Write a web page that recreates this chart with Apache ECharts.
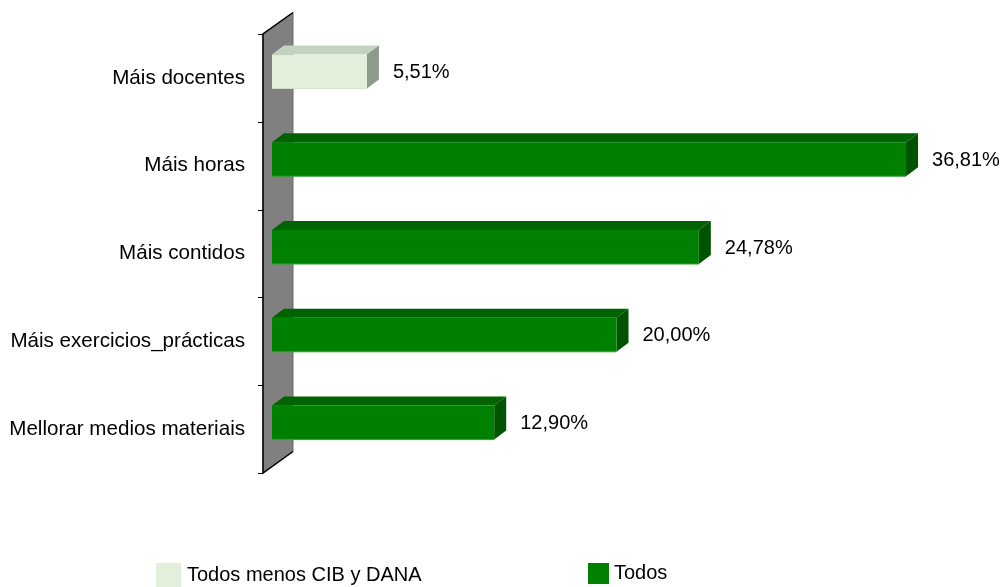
<!DOCTYPE html>
<html>
<head>
<meta charset="utf-8">
<script src="https://cdn.jsdelivr.net/npm/echarts@6/dist/echarts.min.js"></script>
<style>
html,body{margin:0;padding:0;background:#fff;}
#chart{width:1003px;height:587px;}
</style>
</head>
<body>
<div id="chart"></div>
<script>
const categories = ['Máis docentes', 'Máis horas', 'Máis contidos', 'Máis exercicios_prácticas', 'Mellorar medios materiais'];
const todosMenosValues = [5.51, null, null, null, null];
const todosValues = [null, 36.81, 24.78, 20.00, 12.90];
const seriesNames = ['Todos menos CIB y DANA', 'Todos'];

const FONT = "'Liberation Sans', Arial, sans-serif";
const palettes = {
  light: { front: '#e2efda', top: '#c4d3be', side: '#8e9a8b', edge: '#d0e0c8' },
  green: { front: '#008000', top: '#006200', side: '#005300', edge: '#33a033' }
};

function toData(arr) {
  const out = [];
  arr.forEach(function (v, i) { if (v != null) out.push([v, i]); });
  return out;
}

function fmt(v) { return v.toFixed(2).replace('.', ',') + '%'; }

function makeBarRender(pal) {
  return function (params, api) {
    const v = api.value(0), c = api.value(1);
    const p0 = api.coord([0, c]);
    const p1 = api.coord([v, c]);
    const cy = p0[1] - 6.5;
    const h = 34, dx = 12, dy = 9;
    const x0 = p0[0], x1 = p1[0];
    const top = cy - h / 2, bot = cy + h / 2;
    return {
      type: 'group',
      children: [
        { type: 'polygon', shape: { points: [[x0, top], [x1, top], [x1 + dx, top - dy], [x0 + dx, top - dy]] },
          style: { fill: pal.top } },
        { type: 'polygon', shape: { points: [[x1, top], [x1 + dx, top - dy], [x1 + dx, bot - dy], [x1, bot]] },
          style: { fill: pal.side } },
        { type: 'rect', shape: { x: x0, y: top, width: x1 - x0, height: h },
          style: { fill: pal.front } },
        { type: 'line', shape: { x1: x0, y1: bot, x2: x1, y2: bot }, style: { stroke: pal.edge, lineWidth: 1 } },
        { type: 'text', x: x1 + dx + 14, y: cy + 1,
          style: { text: fmt(v), fill: '#000', font: '20px ' + FONT, textAlign: 'left', textVerticalAlign: 'middle' } }
      ]
    };
  };
}

function renderWall(params, api) {
  const cs = params.coordSys;
  const fx = cs.x - 9, ty = cs.y, by = cs.y + cs.height;
  const dx = 30, dy = 21.5;
  const children = [
    { type: 'polygon', shape: { points: [[fx, ty], [fx + dx, ty - dy], [fx + dx, by - dy], [fx, by]] },
      style: { fill: '#808080', stroke: '#6a6a6a', lineWidth: 1 } },
    { type: 'polyline', shape: { points: [[fx + dx, ty - dy], [fx, ty], [fx, by], [fx + dx, by - dy]] },
      style: { stroke: '#000', lineWidth: 1.5, fill: null } }
  ];
  const n = categories.length;
  for (let i = 0; i <= n; i++) {
    const y = Math.round(ty + i * cs.height / n) + 0.5;
    children.push({ type: 'line', shape: { x1: fx - 5, y1: y, x2: fx, y2: y }, style: { stroke: '#000', lineWidth: 1 } });
  }
  return { type: 'group', children: children };
}

const chart = echarts.init(document.getElementById('chart'), null, { renderer: 'canvas' });
chart.setOption({
  animation: false,
  backgroundColor: '#fff',
  textStyle: { fontFamily: FONT },
  grid: { left: 272, right: 42, top: 34, bottom: 114, containLabel: false },
  xAxis: { type: 'value', min: 0, max: 40, show: false },
  yAxis: {
    type: 'category', data: categories, inverse: true, offset: 9,
    axisLine: { show: false },
    axisTick: { show: false },
    axisLabel: { margin: 18, color: '#000', fontSize: 20.6, fontFamily: FONT, padding: [4, 0, 0, 0] },
    splitLine: { show: false }
  },
  legend: [
    { data: [seriesNames[0]], left: 156, top: 563, padding: 0, icon: 'rect', itemWidth: 25, itemHeight: 24, itemGap: 0,
      textStyle: { fontSize: 20, color: '#000', fontFamily: FONT, padding: [0, 0, 0, 1] } },
    { data: [seriesNames[1]], left: 588, top: 563, padding: 0, icon: 'rect', itemWidth: 21, itemHeight: 21, itemGap: 0,
      textStyle: { fontSize: 20, color: '#000', fontFamily: FONT, padding: [5, 0, 0, 0] } }
  ],
  series: [
    { type: 'custom', name: 'wall', renderItem: renderWall, data: [[0, 0]], z: 1, silent: true },
    { type: 'custom', name: seriesNames[0], renderItem: makeBarRender(palettes.light),
      itemStyle: { color: palettes.light.front }, encode: { x: 0, y: 1 }, data: toData(todosMenosValues), z: 3 },
    { type: 'custom', name: seriesNames[1], renderItem: makeBarRender(palettes.green),
      itemStyle: { color: palettes.green.front }, encode: { x: 0, y: 1 }, data: toData(todosValues), z: 3 }
  ]
});
</script>
</body>
</html>
